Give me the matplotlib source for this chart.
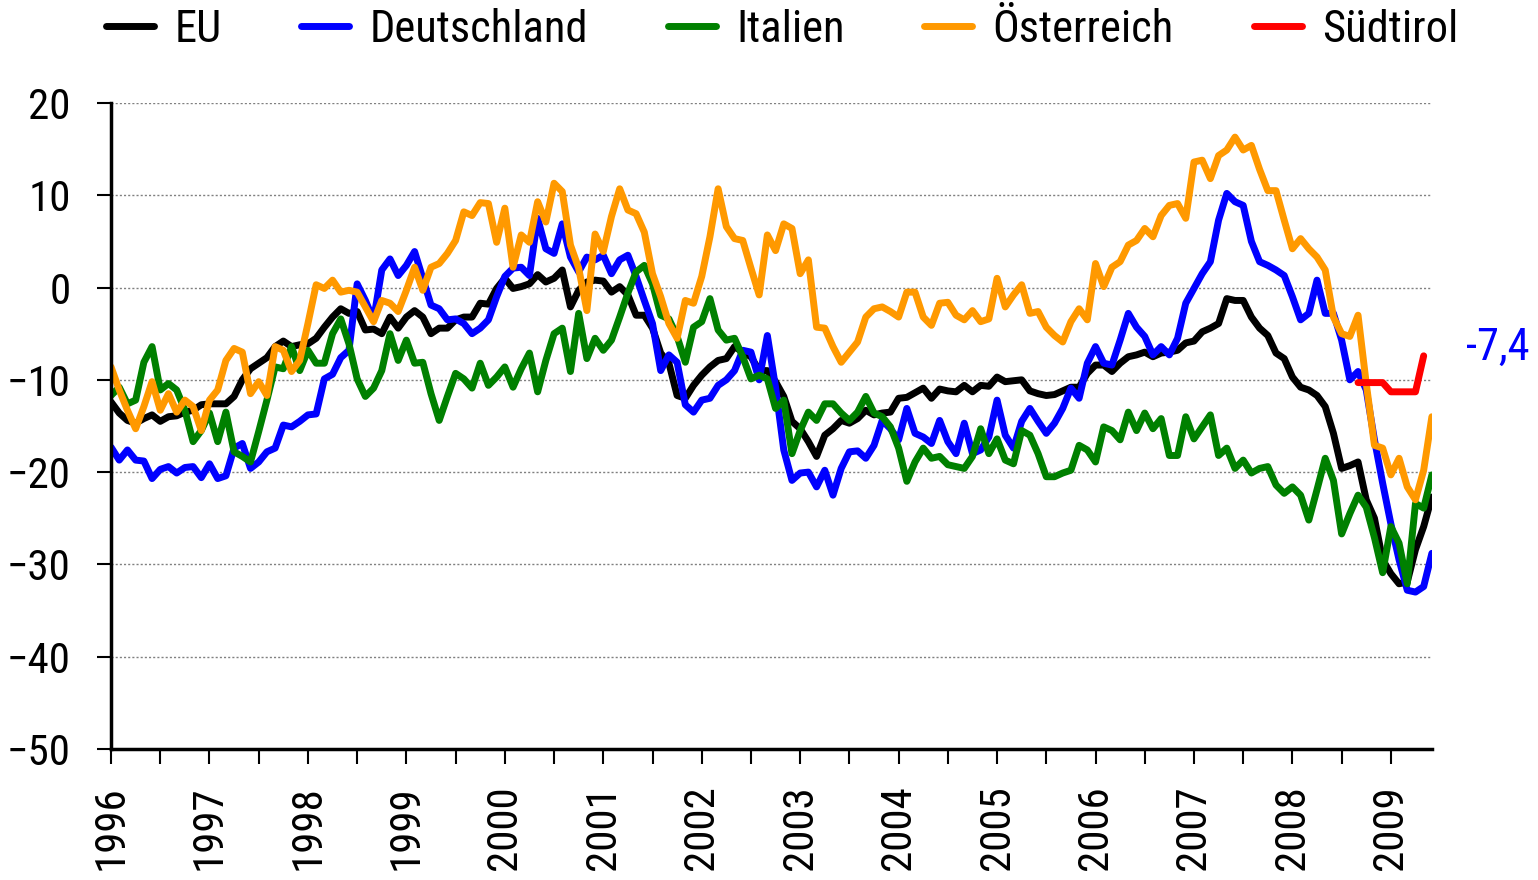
import matplotlib
matplotlib.use("Agg")
import matplotlib.pyplot as plt
import numpy as np

plt.rcParams['font.family'] = ['Roboto Condensed', 'DejaVu Sans']

# monthly values, Jan 1996 .. Jun 2009
years = list(range(1996, 2010))

eu = [-12.4, -13.6, -14.4, -14.7, -14.2, -13.8, -14.5, -14.0, -13.9, -13.5, -13.3, -12.7,
      -12.6, -12.6, -12.6, -11.8, -10.0, -8.8, -8.2, -7.6, -6.4, -5.8, -6.4, -6.2,
      -6.1, -5.5, -4.3, -3.2, -2.3, -2.8, -2.6, -4.6, -4.5, -5.0, -3.2, -4.4,
      -3.2, -2.5, -3.2, -5.0, -4.4, -4.4, -3.5, -3.2, -3.2, -1.7, -1.8, -0.1,
      1.0, -0.1, 0.1, 0.4, 1.4, 0.6, 1.0, 1.9, -2.1, -0.3, 0.6, 0.8,
      0.7, -0.5, 0.1, -0.8, -3.0, -3.0, -4.4, -7.1, -8.2, -11.7, -12.0, -10.6,
      -9.5, -8.6, -7.9, -7.7, -6.4, -7.0, -7.5, -9.0, -9.0, -10.2, -11.8, -14.5,
      -15.3, -16.7, -18.3, -16.0, -15.3, -14.4, -14.7, -14.2, -13.3, -13.8, -13.6, -13.5,
      -12.0, -11.9, -11.4, -10.9, -12.0, -11.0, -11.2, -11.3, -10.6, -11.3, -10.6, -10.7,
      -9.7, -10.2, -10.1, -10.0, -11.2, -11.5, -11.7, -11.6, -11.2, -10.8, -10.8, -9.3,
      -8.4, -8.4, -9.1, -8.2, -7.5, -7.3, -7.0, -7.5, -7.1, -7.0, -6.8, -6.0,
      -5.8, -4.8, -4.4, -3.9, -1.2, -1.4, -1.4, -3.2, -4.4, -5.2, -7.1, -7.7,
      -9.7, -10.8, -11.1, -11.7, -12.9, -15.8, -19.6, -19.3, -18.9, -23.0, -25.0, -29.5,
      -31.0, -32.1, -31.9, -28.4, -25.9, -22.7]

deutschland = [-17.3, -18.7, -17.6, -18.7, -18.8, -20.7, -19.7, -19.4, -20.1, -19.5, -19.4, -20.6,
               -19.1, -20.7, -20.4, -17.4, -16.9, -19.6, -18.9, -17.8, -17.4, -14.9, -15.1, -14.5,
               -13.8, -13.7, -9.9, -9.4, -7.6, -6.8, 0.4, -1.4, -3.5, 1.9, 3.1, 1.3,
               2.4, 3.9, 1.0, -1.9, -2.3, -3.5, -3.4, -3.9, -5.0, -4.4, -3.5, -1.0,
               1.2, 2.1, 2.2, 1.3, 7.5, 4.2, 3.7, 6.9, 3.3, 1.7, 3.3, 3.0,
               3.5, 1.5, 3.0, 3.5, 1.2, -1.4, -3.9, -9.0, -7.3, -8.1, -12.7, -13.5,
               -12.2, -12.0, -10.6, -10.0, -9.0, -6.8, -7.0, -10.0, -5.2, -10.8, -17.6, -20.9,
               -20.1, -20.0, -21.6, -19.8, -22.5, -19.6, -17.8, -17.7, -18.5, -17.1, -14.4, -15.3,
               -16.5, -13.1, -15.8, -16.2, -16.9, -14.4, -16.7, -18.0, -14.7, -18.0, -17.6, -16.2,
               -12.2, -16.0, -17.4, -14.5, -13.1, -14.5, -15.8, -14.7, -13.1, -10.9, -12.0, -8.2,
               -6.4, -8.2, -8.4, -5.7, -2.8, -4.3, -5.3, -7.3, -6.4, -7.3, -5.5, -1.7,
               -0.1, 1.5, 2.8, 7.3, 10.2, 9.3, 8.9, 5.0, 2.8, 2.4, 1.9, 1.3,
               -1.0, -3.5, -2.8, 0.8, -2.8, -2.8, -5.7, -10.0, -9.1, -11.1, -16.5, -21.2,
               -25.6, -29.5, -32.8, -33.0, -32.4, -28.8]

italien = [-11.7, -10.8, -12.6, -12.2, -8.1, -6.4, -11.1, -10.4, -11.1, -13.3, -16.7, -15.5,
           -13.6, -16.7, -13.5, -17.8, -18.3, -18.9, -15.6, -12.2, -8.6, -8.8, -6.4, -9.0,
           -6.8, -8.2, -8.2, -5.0, -3.4, -6.1, -9.9, -11.8, -10.9, -9.0, -5.0, -7.9,
           -5.7, -8.2, -8.1, -11.5, -14.4, -11.8, -9.3, -9.9, -10.9, -8.2, -10.6, -9.7,
           -8.6, -10.8, -8.8, -7.1, -11.3, -7.9, -5.0, -4.4, -9.1, -2.8, -7.7, -5.5,
           -6.8, -5.7, -3.2, -0.6, 1.7, 2.4, 0.4, -3.0, -3.4, -5.3, -8.1, -4.3,
           -3.7, -1.2, -4.6, -5.7, -5.5, -7.5, -9.9, -9.5, -9.9, -13.1, -12.2, -18.0,
           -15.5, -13.5, -14.4, -12.6, -12.6, -13.6, -14.4, -13.5, -11.8, -13.6, -14.0, -15.1,
           -17.4, -21.0, -18.9, -17.4, -18.5, -18.3, -19.2, -19.4, -19.6, -18.3, -15.3, -18.0,
           -16.4, -18.7, -19.1, -15.5, -16.0, -18.0, -20.5, -20.5, -20.1, -19.8, -17.1, -17.6,
           -18.9, -15.1, -15.5, -16.5, -13.5, -15.5, -13.6, -15.3, -14.2, -18.2, -18.2, -14.0,
           -16.4, -15.1, -13.8, -18.2, -17.4, -19.6, -18.7, -20.1, -19.6, -19.4, -21.4, -22.3,
           -21.6, -22.5, -25.2, -21.9, -18.5, -20.9, -26.7, -24.5, -22.5, -23.8, -27.1, -30.9,
           -25.9, -27.7, -32.1, -23.4, -23.9, -20.3]

oesterreich = [-8.6, -11.1, -13.3, -15.3, -12.9, -10.2, -13.3, -11.5, -13.5, -12.2, -12.9, -15.5,
               -12.2, -11.1, -7.9, -6.6, -7.0, -11.5, -10.2, -11.7, -6.4, -6.8, -9.1, -7.9,
               -3.9, 0.3, -0.1, 0.8, -0.5, -0.3, -0.5, -2.1, -3.7, -1.4, -1.7, -2.6,
               -0.3, 2.2, -0.3, 2.2, 2.6, 3.7, 5.1, 8.2, 7.8, 9.2, 9.1, 4.9,
               8.6, 2.2, 5.7, 4.9, 9.3, 7.1, 11.3, 10.4, 4.6, 2.1, -2.5, 5.8,
               3.9, 7.7, 10.7, 8.4, 8.0, 6.0, 1.5, -1.0, -3.9, -5.5, -1.4, -1.7,
               1.2, 5.5, 10.7, 6.6, 5.3, 5.1, 2.1, -0.8, 5.7, 4.0, 6.9, 6.4,
               1.5, 3.0, -4.3, -4.4, -6.4, -8.1, -7.0, -5.9, -3.2, -2.3, -2.1, -2.6,
               -3.2, -0.5, -0.5, -3.2, -4.1, -1.7, -1.6, -3.0, -3.5, -2.5, -3.7, -3.4,
               1.0, -2.1, -0.8, 0.3, -2.8, -2.6, -4.3, -5.2, -5.9, -3.7, -2.3, -3.5,
               2.6, 0.1, 2.2, 2.8, 4.6, 5.1, 6.4, 5.5, 7.8, 8.9, 9.1, 7.5,
               13.6, 13.8, 11.8, 14.3, 14.9, 16.3, 14.9, 15.4, 12.8, 10.5, 10.5, 7.3,
               4.2, 5.3, 4.2, 3.3, 1.9, -3.2, -5.0, -5.3, -3.0, -10.4, -17.1, -17.4,
               -20.3, -18.5, -21.6, -23.0, -19.8, -14.0]

# Südtirol only from Sep 2008 (month index 152)
suedtirol_start = 152
suedtirol = [-10.3, -10.3, -10.3, -10.3, -11.3, -11.3, -11.3, -11.3, -7.4]

months = np.arange(len(eu))
sued_months = np.arange(suedtirol_start, suedtirol_start + len(suedtirol))

fig = plt.figure(figsize=(15.38, 8.8), dpi=100)
ax = fig.add_axes([0.0722, 0.1489, 0.931 - 0.0722, 0.883 - 0.1489])

style = dict(lw=5, solid_capstyle='round', solid_joinstyle='round')
ax.plot(months, eu, color='black', label='EU', **style)
ax.plot(months, deutschland, color='#0000FF', label='Deutschland', **style)
ax.plot(months, italien, color='#008000', label='Italien', **style)
ax.plot(months, oesterreich, color='#FF9900', label='Österreich', **style)
ax.plot(sued_months, suedtirol, color='#FF0000', label='Südtirol', **style)

# last Südtirol value written next to the plot
ax.text(months[-1] + 4.2, suedtirol[-1] + 0.9, f"{suedtirol[-1]:.1f}".replace('.', ','),
        color='#0000FF', fontsize=32, va='center', ha='left', clip_on=False)

ax.set_xlim(0, months[-1])
ax.set_ylim(-50, 20)
ax.set_yticks(np.arange(-50, 21, 10))
ax.set_xticks([12 * i for i in range(len(years))])
ax.set_xticklabels([str(y) for y in years], rotation=90)
ax.set_xticks([12 * i + 6 for i in range(len(years) - 1)], minor=True)

ax.tick_params(axis='y', direction='out', length=10, width=1.5, pad=19, labelsize=31)
ax.tick_params(axis='x', which='both', direction='out', length=11, width=1.5, pad=15, labelsize=31)

for g in range(-40, 21, 10):
    ax.axhline(g, color='#808080', lw=1, ls=(0, (1.5, 1.5)), zorder=0)

for s in ['top', 'right']:
    ax.spines[s].set_visible(False)
for s in ['left', 'bottom']:
    ax.spines[s].set_linewidth(2.5)

fig.legend(loc='center', bbox_to_anchor=(0.5085, 0.966), ncol=5, frameon=False,
           fontsize=32, handlelength=1.08, handletextpad=0.45, columnspacing=1.8)

fig.savefig('out.png', dpi=100)
